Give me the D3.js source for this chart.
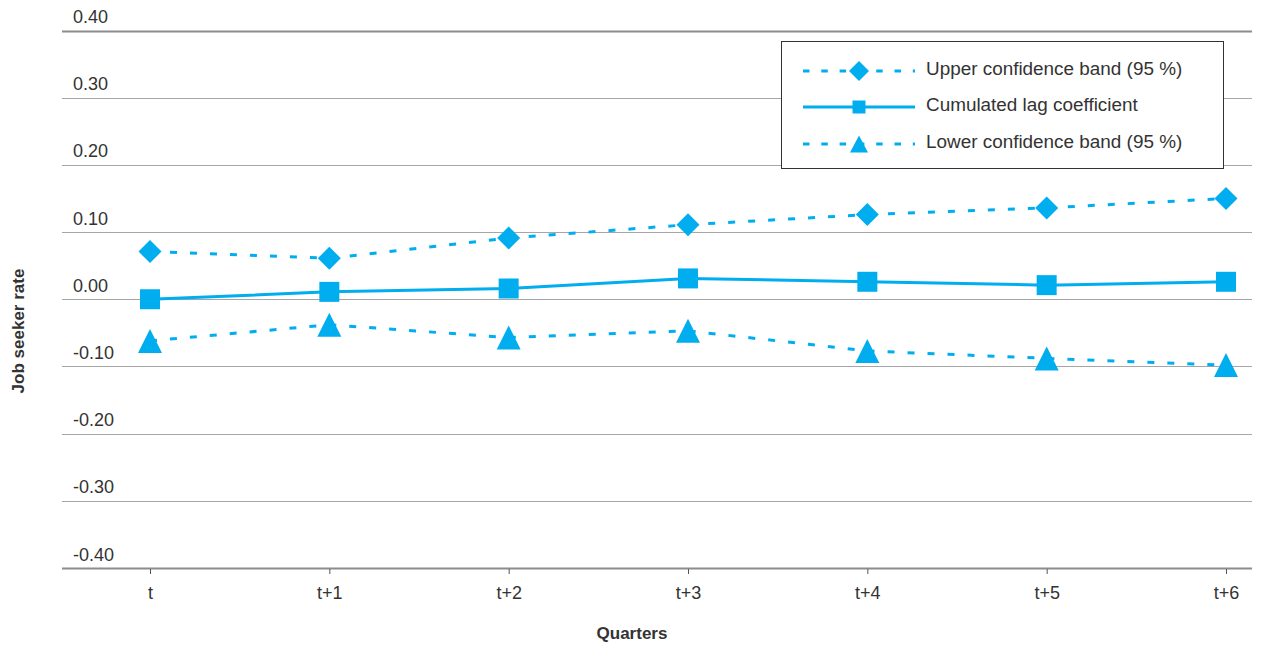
<!DOCTYPE html>
<html>
<head>
<meta charset="utf-8">
<script src="https://cdn.jsdelivr.net/npm/d3@7"></script>
<style>
  html, body { margin: 0; padding: 0; background: #fff; }
  svg { display: block; font-family: "Liberation Sans", Arial, Helvetica, sans-serif; }
</style>
</head>
<body>
<svg id="chart" width="1264" height="646"></svg>
<script>
// ---- data ----
const categories = ["t", "t+1", "t+2", "t+3", "t+4", "t+5", "t+6"];
const upperBand = [0.071, 0.061, 0.091, 0.111, 0.126, 0.136, 0.150];
const lagCoef   = [0.000, 0.011, 0.016, 0.031, 0.026, 0.021, 0.026];
const lowerBand = [-0.062, -0.038, -0.057, -0.047, -0.077, -0.088, -0.098];
const yTicks = [0.4, 0.3, 0.2, 0.1, 0.0, -0.1, -0.2, -0.3, -0.4];
const seriesNames = ["Upper confidence band (95 %)", "Cumulated lag coefficient", "Lower confidence band (95 %)"];
const xTitle = "Quarters";
const yTitle = "Job seeker rate";

// ---- layout ----
const color = "#00aeef";
const textColor = "#333333";
const svg = d3.select("#chart");
const gridLeft = 62, gridRight = 1252;

const x = d3.scalePoint().domain(categories).range([150, 1226]);
const y = d3.scaleLinear().domain([-0.4, 0.4]).range([568, 30.5]);

// gridlines
svg.append("g").selectAll("line").data(yTicks).join("line")
  .attr("x1", gridLeft).attr("x2", gridRight)
  .attr("y1", d => Math.round(y(d)) + 0.5).attr("y2", d => Math.round(y(d)) + 0.5)
  .attr("stroke", d => (d === 0.4 || d === -0.4) ? "#8c8c8c" : "#a6a6a6")
  .attr("stroke-width", d => (d === 0.4 || d === -0.4) ? 2 : 1.2);

// y tick labels
svg.append("g").selectAll("text").data(yTicks).join("text")
  .attr("x", 73).attr("y", d => y(d) - 7.5)
  .attr("font-size", 18).attr("fill", textColor)
  .text(d => d3.format(".2f")(d).replace("\u2212", "-"));

// x axis (ticks + labels)
const xAxis = d3.axisBottom(x).tickSize(5).tickPadding(12);
const gx = svg.append("g").attr("transform", `translate(0,${y(-0.4) + 1})`).call(xAxis);
gx.select(".domain").remove();
gx.selectAll(".tick line").attr("stroke", "#555").attr("stroke-width", 1);
gx.selectAll(".tick text").attr("font-size", 18).attr("fill", textColor)
  .attr("font-family", "Liberation Sans, Arial, sans-serif");

// axis titles
svg.append("text").attr("x", 632).attr("y", 639).attr("text-anchor", "middle")
  .attr("font-size", 17).attr("font-weight", "bold").attr("fill", textColor).text(xTitle);
svg.append("text").attr("transform", "translate(24,331) rotate(-90)").attr("text-anchor", "middle")
  .attr("font-size", 17).attr("font-weight", "bold").attr("fill", textColor).text(yTitle);

// marker shapes
function diamond(r) { return `M0,${-r}L${r},0L0,${r}L${-r},0Z`; }
function square(s) { const h = s / 2; return `M${-h},${-h}H${h}V${h}H${-h}Z`; }
function triangle(w, h) { return `M0,${-h/2}L${w/2},${h/2}L${-w/2},${h/2}Z`; }

const series = [
  { name: seriesNames[0], values: upperBand, dash: "7,13", shape: diamond(11.5), legendShape: diamond(10) },
  { name: seriesNames[1], values: lagCoef, dash: null, shape: square(20), legendShape: square(13) },
  { name: seriesNames[2], values: lowerBand, dash: "7,13", shape: triangle(24, 24), legendShape: triangle(18, 17) }
];

const line = d3.line().x((d, i) => x(categories[i])).y(d => y(d));

series.forEach(s => {
  svg.append("path").datum(s.values)
    .attr("d", line)
    .attr("fill", "none").attr("stroke", color).attr("stroke-width", 3)
    .attr("stroke-dasharray", s.dash);
  svg.append("g").selectAll("path").data(s.values).join("path")
    .attr("d", s.shape)
    .attr("transform", (d, i) => `translate(${x(categories[i])},${y(d)})`)
    .attr("fill", color);
});

// legend
const lg = svg.append("g");
lg.append("rect").attr("x", 781.5).attr("y", 41.5).attr("width", 442).attr("height", 127)
  .attr("fill", "#fff").attr("stroke", "#333").attr("stroke-width", 1);
const rows = [71, 107, 144];
series.forEach((s, i) => {
  const ry = rows[i];
  lg.append("line").attr("x1", 803).attr("x2", 915).attr("y1", ry).attr("y2", ry)
    .attr("stroke", color).attr("stroke-width", 3)
    .attr("stroke-dasharray", s.dash ? "6.5,11.8" : null);
  lg.append("path").attr("d", s.legendShape).attr("transform", `translate(859,${ry})`).attr("fill", color);
  lg.append("text").attr("x", 926).attr("y", ry + 4).attr("font-size", 18.9).attr("fill", textColor)
    .text(s.name);
});
</script>
</body>
</html>
